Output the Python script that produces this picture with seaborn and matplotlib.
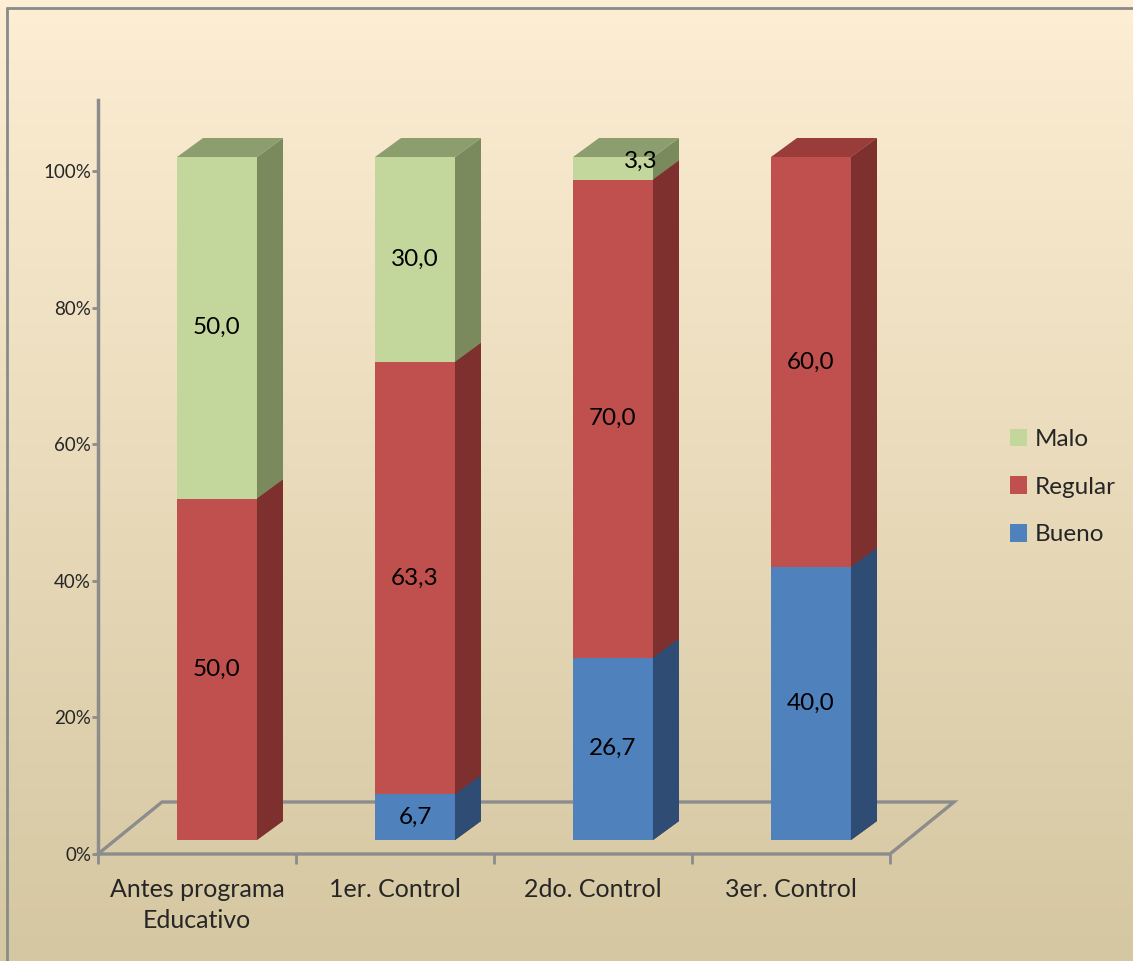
import numpy as np
import pandas as pd
import matplotlib
matplotlib.use("Agg")
import matplotlib.pyplot as plt
import seaborn as sns
from matplotlib.transforms import ScaledTranslation
from matplotlib.patches import Polygon, Rectangle
from matplotlib.lines import Line2D

# ---- data -------------------------------------------------------------
categories = ["Antes programa\nEducativo", "1er. Control", "2do. Control", "3er. Control"]
bueno = [0.0, 6.7, 26.7, 40.0]
regular = [50.0, 63.3, 70.0, 60.0]
malo = [50.0, 30.0, 3.3, 0.0]
series_names = ["Bueno", "Regular", "Malo"]
y_ticks = [0, 20, 40, 60, 80, 100]

# ---- styling ----------------------------------------------------------
front = {"Bueno": "#4F81BD", "Regular": "#C0504D", "Malo": "#C3D69B"}
side = {"Bueno": "#2F4D74", "Regular": "#7D302E", "Malo": "#7A8A5C"}
top = {"Bueno": "#3E6797", "Regular": "#9A3C3A", "Malo": "#8D9E6E"}
axis_grey = "#8C8C8C"

sns.set_theme(style="white")
plt.rcParams["font.family"] = ["Lato", "DejaVu Sans"]

W, H, DPI = 1133, 961, 100
fig = plt.figure(figsize=(W / DPI, H / DPI), dpi=DPI)

# background gradient + frame
bg = fig.add_axes([0, 0, 1, 1], zorder=-10)
grad = np.linspace(0, 1, 256)[:, None]
c_top = np.array([253, 238, 212]) / 255
c_bot = np.array([213, 199, 161]) / 255
img = c_top[None, None, :] * (1 - grad[:, :, None]) + c_bot[None, None, :] * grad[:, :, None]
bg.imshow(img, aspect="auto", extent=[0, 1, 0, 1], origin="upper")
bg.set_xlim(0, 1)
bg.set_ylim(0, 1)
bg.axis("off")
bg.add_line(Line2D([7 / W, 7 / W], [0, 1 - 8 / H], color="#8A8A8A", lw=2))
bg.add_line(Line2D([7 / W, 1], [1 - 8 / H, 1 - 8 / H], color="#8A8A8A", lw=2))

# ---- main axes (front plane of the floor) ----------------------------
x_left, x_right = 98, 890
y_zero, y_hundred, y_axis_top = 854, 171, 100
ax = fig.add_axes([x_left / W, (H - y_zero) / H, (x_right - x_left) / W, (y_zero - y_axis_top) / H])
ax.patch.set_alpha(0)
ymax = 100 * (y_zero - y_axis_top) / (y_zero - y_hundred)

df = pd.DataFrame({"cat": categories, "Bueno": bueno, "Regular": regular, "Malo": malo})
df["cum_b"] = df["Bueno"]
df["cum_r"] = df["Bueno"] + df["Regular"]
df["cum_m"] = df["cum_r"] + df["Malo"]

bar_width = 0.404
# stacked front faces: totals first, then the lower layers on top of them
layer_cols = [("Malo", "cum_m"), ("Regular", "cum_r"), ("Bueno", "cum_b")]
for name, col in layer_cols:
    sns.barplot(data=df, x="cat", y=col, order=categories, color=front[name],
                width=bar_width, saturation=1, ax=ax, linewidth=0, errorbar=None)

ax.set_xlim(-0.5, 3.5)
ax.set_ylim(0, ymax)

# columns sit inside the floor: shift the whole column set back in depth
shift = ax.transData + ScaledTranslation(20 / DPI, 14 / DPI, fig.dpi_scale_trans)
for p in ax.patches:
    p.set_transform(shift)
    p.set_clip_on(False)

# convert pixel depth vectors into data units
px_x = ax.transData.transform((1, 0))[0] - ax.transData.transform((0, 0))[0]
px_y = ax.transData.transform((0, 1))[1] - ax.transData.transform((0, 0))[1]
bar_dx, bar_dy = 26 / px_x, 19 / px_y
floor_dx, floor_dy = 64 / px_x, 52 / px_y

# side faces (drawn from tallest cumulative layer down)
for name, col in layer_cols:
    for i, h in enumerate(df[col]):
        if h <= 0:
            continue
        xr = i + bar_width / 2
        poly = Polygon([(xr, 0), (xr + bar_dx, bar_dy), (xr + bar_dx, h + bar_dy), (xr, h)],
                       closed=True, facecolor=side[name], edgecolor="none",
                       transform=shift, clip_on=False, zorder=2)
        ax.add_patch(poly)

# top faces, coloured by the uppermost non-empty segment
for i in range(len(categories)):
    total = df["cum_m"][i]
    top_name = next(n for n in ["Malo", "Regular", "Bueno"] if df[n][i] > 0)
    xl, xr = i - bar_width / 2, i + bar_width / 2
    poly = Polygon([(xl, total), (xr, total), (xr + bar_dx, total + bar_dy), (xl + bar_dx, total + bar_dy)],
                   closed=True, facecolor=top[top_name], edgecolor="none",
                   transform=shift, clip_on=False, zorder=2)
    ax.add_patch(poly)

# floor outline (behind the columns)
floor = Polygon([(-0.5, 0), (3.5, 0), (3.5 + floor_dx, floor_dy), (-0.5 + floor_dx, floor_dy)],
                closed=True, fill=False, edgecolor=axis_grey, lw=2.4, clip_on=False, zorder=0.5)
ax.add_patch(floor)

# data labels centred on each segment
for name in series_names:
    base = {"Bueno": [0] * 4, "Regular": list(df["cum_b"]), "Malo": list(df["cum_r"])}[name]
    for i, v in enumerate(df[name]):
        if v <= 0:
            continue
        xo = 28 if v < 5 else 0
        t = ax.transData + ScaledTranslation((20 + xo) / DPI, 14 / DPI, fig.dpi_scale_trans)
        ax.text(i, base[i] + v / 2 + (1 if v < 5 else 0), f"{v:.1f}".replace(".", ","),
                ha="center", va="center", fontsize=17.5, color="black", transform=t, zorder=5)

# axes styling
sns.despine(ax=ax, top=True, right=True, bottom=True, left=False)
ax.spines["left"].set_color(axis_grey)
ax.spines["left"].set_linewidth(2.5)
ax.set_yticks(y_ticks)
ax.set_yticklabels([f"{t}%" for t in y_ticks])
ax.tick_params(axis="y", length=4, width=2, color=axis_grey, labelsize=13.5, pad=1, left=True)
ax.set_xticks(range(len(categories)))
ax.set_xticklabels(categories)
ax.set_xticks(np.arange(-0.5, 3.6, 1), minor=True)
ax.tick_params(axis="x", which="major", length=0, labelsize=18, pad=17)
ax.tick_params(axis="x", which="minor", length=7, width=2, color=axis_grey, bottom=True, direction="out")
for lbl in ax.get_xticklabels():
    lbl.set_linespacing(1.45)
ax.set_xlabel("")
ax.set_ylabel("")

# legend
handles = [Rectangle((0, 0), 1, 1, facecolor=front[n], edgecolor="none") for n in ["Malo", "Regular", "Bueno"]]
leg = fig.legend(handles, ["Malo", "Regular", "Bueno"], loc="center left",
                 bbox_to_anchor=(988 / W, 1 - 487 / H), frameon=False, fontsize=17.5,
                 handlelength=0.72, handleheight=0.72, handletextpad=0.3, labelspacing=1.1)

fig.savefig("out.png", dpi=DPI)
